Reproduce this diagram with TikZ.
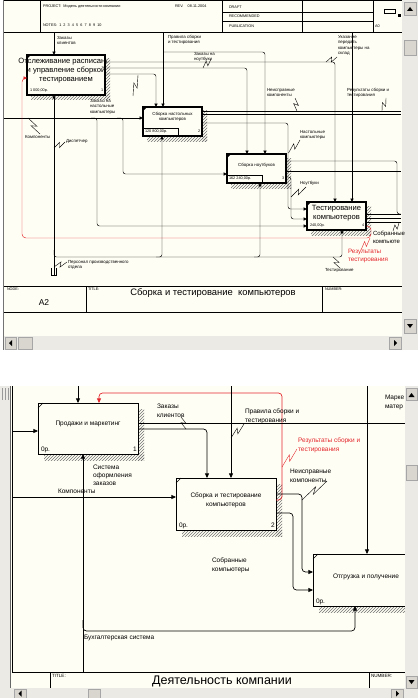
\documentclass[tikz,border=0pt]{standalone}
\usepackage{fontspec}
\setmainfont{Liberation Sans}
\usetikzlibrary{arrows.meta,patterns,calc}
\definecolor{cream}{HTML}{FFFEF4}
\definecolor{sbar}{HTML}{ECEAE4}
\definecolor{sbtn}{HTML}{D9D6CF}
\definecolor{redl}{HTML}{E3262C}
\newcommand{\fsH}{\fontsize{3.8}{4.4}\selectfont}
\newcommand{\fsA}{\fontsize{4.4}{5.6}\selectfont}
\newcommand{\fsAb}{\fontsize{6}{8.5}\selectfont}
\newcommand{\fsB}{\fontsize{6.5}{8.6}\selectfont}
\newcommand{\fsC}{\fontsize{7.6}{9}\selectfont}
\newcommand{\lsq}[3][black]{\draw[sq,#1] #2 -- ($#2!0.6!#3!2.2pt!90:#3$) -- ($#2!0.4!#3!2.2pt!-90:#3$) -- #3;}
\tikzset{
  every node/.style={inner sep=0pt, outer sep=0pt},
  boxT/.style={draw, line width=1.3pt, fill=cream, anchor=north west},
  boxB/.style={draw, line width=0.8pt, fill=cream, anchor=north west},
  lbl/.style={anchor=north west, align=left, font=\fsA},
  lblB/.style={anchor=north west, align=left, font=\fsB},
  hdr/.style={anchor=north west, align=left, font=\fsH},
  con/.style={line width=0.45pt, rounded corners=2.5pt},
  arT/.style={con, -{Triangle[length=3.4pt,width=3.2pt]}},
  conB/.style={line width=0.7pt, rounded corners=3.5pt},
  arB/.style={conB, -{Triangle[length=4.6pt,width=4pt]}},
  sq/.style={line width=0.4pt},
  hatch/.style={pattern=north east lines, pattern color=black!55},
  btn/.style={fill=sbtn, draw=black!35, line width=0.4pt},
}
\begin{document}
\begin{tikzpicture}[x=1pt,y=-1pt]
\useasboundingbox (0,0) rectangle (418,698);
\fill[white] (0,0) rectangle (418,698);
% ================= TOP SCREENSHOT =================
\fill[cream] (4,0) rectangle (402,336);
\draw[black!55, line width=0.8pt] (3.5,0) -- (3.5,350);
% header
\draw[line width=0.5pt] (4,0.4) -- (402,0.4);
\draw[line width=0.5pt] (4,32) -- (402,32);
\draw[line width=0.5pt] (40,0) -- (40,32) (222,0) -- (222,32) (302,0) -- (302,32) (373,0) -- (373,32);
\draw[line width=0.5pt] (222,12) -- (373,12) (222,21) -- (373,21);
\node[hdr] (hp) at (43,5) {PROJECT:\ \ Модель деятельности компании};
\node[hdr] (hr) at (175,5) {REV.\ \ \ \ 08.11.2004};
\node[hdr] (hn) at (43,24) {NOTES:\ \ 1\ \ 2\ \ 3\ \ 4\ \ 5\ \ 6\ \ 7\ \ 8\ \ 9\ \ 10};
\node[hdr] (hd) at (229,6) {DRAFT};
\node[hdr] (hrc) at (229,15) {RECOMMENDED};
\node[hdr] (hpb) at (229,24.5) {PUBLICATION};
\node[hdr] (ha) at (375,25) {A0};
\draw[line width=0.5pt] (384,9) rectangle (395,13);
\fill (398,14) rectangle (401,17);
% footer
\draw[line width=0.5pt] (4,286) -- (402,286) (4,312) -- (402,312) (86,286) -- (86,312) (322,286) -- (322,312);
\node[hdr] (fn) at (7,288) {NODE:};
\node[hdr] (ft) at (88,288) {TITLE:};
\node[hdr] (fnum) at (325,288) {NUMBER:};
\node[font=\fontsize{8.5}{9}\selectfont] (fa2) at (44,303) {A2};
\node[font=\fontsize{9.4}{10}\selectfont] (ftt) at (213,293) {Сборка и тестирование\ \ компьютеров};
% scrollbars
\fill[sbar] (402,0) rectangle (418,350);
\fill[sbar] (4,336) rectangle (402,350);
\draw[btn] (404,2) rectangle (416,15);
\fill (407,11) -- (413,11) -- (410,7) -- cycle;
\draw[btn] (404,40) rectangle (416,55);
\draw[btn] (404,319) rectangle (416,333);
\fill (407,324) -- (413,324) -- (410,328) -- cycle;
\draw[btn] (5,337) rectangle (16,349);
\fill (12,340) -- (12,346) -- (9,343) -- cycle;
\draw[btn] (18,337) rectangle (32,349);
\draw[btn] (389,337) rectangle (401,349);
\fill (394,340) -- (394,346) -- (397,343) -- cycle;
% shadows
\fill[hatch] (105,59) rectangle (110,100);
\fill[hatch] (31,95) rectangle (110,100);
\fill[hatch] (202,111) rectangle (207,141);
\fill[hatch] (147,136) rectangle (207,141);
\fill[hatch] (286,158) rectangle (291,188);
\fill[hatch] (231,183) rectangle (291,188);
\fill[hatch] (366,206) rectangle (371,235);
\fill[hatch] (311,230) rectangle (371,235);
% boxes
\node[boxT, minimum width=78, minimum height=40] (b1) at (27,55) {};
\node[boxT, minimum width=59, minimum height=29] (b2) at (143,107) {};
\node[boxT, minimum width=59, minimum height=29] (b3) at (227,154) {};
\node[boxT, minimum width=59, minimum height=28] (b4) at (307,202) {};
% connectors (top)
\coordinate (tC1) at (54,33);
\draw[arT] (tC1) -- (tC1 |- b1.north);
\coordinate (tC2) at (163,33);
\draw[arT] (tC2) -- (tC2 |- b2.north);
\coordinate (tC2j) at (163,52);
\draw[arT] (tC2j) -| (265,0 |- b3.north);
\coordinate (tC3) at (352,33);
\draw[arT] (tC3) -- (tC3 |- b4.north);
\draw[arT] (b1.east |- 0,62) -| (335,0 |- b4.north);
\draw[arT] (b1.east |- 0,68) -| (247,0 |- b3.north);
\draw[arT] (b1.east |- 0,74) -| (156,0 |- b2.north);
\coordinate (tI1) at (4,118);
\draw[arT] (tI1) -- (tI1 -| b2.west);
\coordinate (tI1a) at (91,118);
\draw[arT] (tI1a) -| (97,200) |- (b4.west |- 0,226);
\coordinate (tI1b) at (117,118);
\draw[arT] (tI1b) -| (123,150) |- (b3.west |- 0,174);
\coordinate (tE1) at (401,111);
\coordinate (tE2) at (401,114);
\draw[con] (b2.east |- tE1) -- (tE1);
\draw[con] (b2.east |- tE2) -- (tE2);
\draw[arT] (b2.east |- 0,123) -| (288,150) |- (b4.west |- 0,209);
\coordinate (tE3) at (401,214);
\coordinate (tE4) at (401,218);
\coordinate (tE5) at (401,222);
\coordinate (tE6) at (401,171);
\draw[con] (b3.east |- 0,161) -| (397,200) |- (tE3);
\draw[con] (b3.east |- tE6) -- (tE6);
\draw[arT] (b3.east |- 0,177) -| (291,200) |- (b4.west |- 0,219);
\draw[con] (b4.east |- tE3) -- (tE3);
\draw[con] (b4.east |- tE4) -- (tE4);
\draw[con] (b4.east |- tE5) -- (tE5);
\draw[arT, redl, rounded corners=4pt] (b4.east |- 0,226) -| (371,238) -| (22,100) |- (b1.west |- 0,78);
\coordinate (tM) at (54,276);
\draw[arT] (tM) -- (tM |- b1.south);
\coordinate (tMj) at (54,250);
\draw[arT] (tMj) |- (300,257) -| (342,0 |- b4.south);
\coordinate (tMa) at (156,257);
\draw[arT] (tMa) -| (162,0 |- b2.south);
\coordinate (tMb) at (254,257);
\draw[arT] (tMb) -| (260,0 |- b3.south);
% tunnel mark
\draw[line width=0.45pt] (51.5,268) -- (51.5,275.5) -- (53.5,275.5) (56.5,268) -- (56.5,275.5) -- (54.5,275.5);
% box texts (top)
\begin{scope}
\clip (10,55) rectangle (106.5,95);
\node[font=\fsC, align=center] (b1t) at (66,71) {Отслеживание расписания\\и управление сборкой\\тестированием};
\end{scope}
\node[font=\fsA, align=center] (b2t) at (172.5,117) {Сборка настольных\\компьютеров};
\node[font=\fsA, align=center] (b3t) at (256.5,165) {Сборка ноутбуков};
\node[font=\fsC, align=center] (b4t) at (336.5,213) {Тестирование\\компьютеров};
\fill (27,55) -- (31,55) -- (27,59) -- cycle;
\fill (143,107) -- (147,107) -- (143,111) -- cycle;
\fill (227,154) -- (231,154) -- (227,158) -- cycle;
\fill (307,202) -- (311,202) -- (307,206) -- cycle;
\draw[line width=0.4pt] (143,128) rectangle (178,136);
\draw[line width=0.4pt] (227,175) rectangle (262,183);
\node[hdr] (b1c) at (30,89) {1 000,00р.};
\node[hdr] (b1n) at (101,89) {1};
\node[hdr] (b2c) at (145,130) {120 800,00р.};
\node[hdr] (b2n) at (198,130) {2};
\node[hdr] (b3c) at (229,177) {162 240,00р.};
\node[hdr] (b3n) at (282,177) {3};
\node[hdr] (b4c) at (310,224) {240,00р.};
\node[hdr] (b4n) at (362,224) {4};
% labels (top)
\node[lbl] (lzk) at (57,36) {Заказы\\клиентов};
\node[lbl] (lpr) at (168,35) {Правила сборки\\и тестирования};
\node[lbl] (lzn) at (194,52) {Заказы на\\ноутбуки};
\lsq{(211,59)}{(203,68)}
\node[lbl] (luk) at (338,35) {Указание\\передать\\компьютеры на\\склад};
\lsq{(337,57)}{(326,62)}
\node[lbl] (lnk) at (267,88) {Неисправные\\компоненты};
\lsq{(295,98)}{(297,111)}
\node[lbl] (lrs) at (347,88) {Результаты сборки и\\тестирования};
\lsq{(386,98)}{(382,111)}
\lsq{(138,75)}{(133,96)}
\node[lbl] (lzd) at (90,99) {Заказы на\\настольные\\компьютеры};
\node[lbl] (lnc) at (300,130) {Настольные\\компьютеры};
\lsq{(300,140)}{(288.5,153)}
\node[lbl] (lkm) at (25,135) {Компоненты};
\lsq{(28,118)}{(40,134)}
\node[lbl] (lds) at (66,139.5) {Диспетчер};
\lsq{(54,148)}{(65,142)}
\node[lbl] (lnb) at (300,181) {Ноутбуки};
\lsq{(306,187)}{(291,197)}
\node[lbl, font=\fsAb] (lsk) at (373,231) {Собранные\\компьюте};
\lsq{(399,223)}{(393,231)}
\node[lbl, font=\fontsize{6.3}{8.5}\selectfont, text=redl] (lrt) at (348,249) {Результаты\\тестирования};
\lsq[redl]{(370,238)}{(361,250)}
\node[lbl] (lps) at (68,260) {Персонал производственного\\отдела};
\lsq{(54,267)}{(67,262)}
\node[lbl] (lts) at (325,268) {Тестирование};
\lsq{(333,257)}{(340,268)}
% ================= BOTTOM SCREENSHOT =================
\fill[sbar] (0,386) rectangle (10,698);
\draw[black!40, line width=0.5pt] (2,388) -- (2,400) (5,388) -- (5,400) (8,388) -- (8,400);
\fill[cream] (10,386) rectangle (405,688);
\draw[black!60, line width=0.6pt] (10,386) -- (10,688);
\draw[line width=0.5pt] (12.5,386) -- (12.5,672);
% title block
\draw[line width=0.6pt] (12,672) -- (405,672) (50,672) -- (50,688) (369,672) -- (369,688);
\node[hdr, font=\fontsize{4.6}{5}\selectfont] (Ltt) at (52,674) {TITLE:};
\node[hdr, font=\fontsize{4.6}{5}\selectfont] (Lnm) at (371,674) {NUMBER:};
\node[font=\fontsize{12.5}{13}\selectfont] (Ltitle) at (222,681) {Деятельность компании};
% shadows
\fill[hatch] (138,409) rectangle (144,460);
\fill[hatch] (44,454) rectangle (144,460);
\fill[hatch] (276,484) rectangle (282,536);
\fill[hatch] (182,530) rectangle (282,536);
\fill[hatch] (319,606) rectangle (405,612);
% boxes
\node[boxB, minimum width=100, minimum height=51] (bA) at (38,403) {};
\node[boxB, minimum width=100, minimum height=52] (bB) at (176,478) {};
\begin{scope}
\clip (300,540) rectangle (405,620);
\node[boxB, minimum width=100, minimum height=52] (bC) at (313,554) {};
\end{scope}
\node[font=\fsB] (bCt) at (366,577) {Отгрузка и получение};
% connectors (bottom)
\coordinate (bC1) at (78,386);
\draw[arB] (bC1) -- (bC1 |- bA.north);
\draw[arB, redl] (bB.east |- 0,500) -| (282,440) |- (99,393) -- (99,0 |- bA.north);
\coordinate (bC2) at (231,386);
\draw[arB] (bC2) -- (bC2 |- bB.north);
\draw[arB] (bA.east |- 0,429) -| (207,0 |- bB.north);
\coordinate (bE1) at (405,423);
\draw[conB] (bA.east |- bE1) -- (bE1);
\coordinate (bI1) at (12.5,431);
\draw[arB] (bI1) -- (bI1 -| bA.west);
\coordinate (bM) at (83,672);
\draw[arB] (bM) -- (bM |- bA.south);
\coordinate (bMj) at (83,620);
\draw[arB] (bMj) |- (340,631) -| (355,0 |- bC.south);
\coordinate (bI2) at (12.5,497);
\draw[arB] (bI2) -- (bI2 -| bB.west);
\draw[arB] (bB.east |- 0,494) -| (302,540) |- (bC.west |- 0,572);
\draw[arB] (bB.east |- 0,513) -| (293,560) |- (bC.west |- 0,590);
\coordinate (bC3) at (367,386);
\draw[arB] (bC3) -- (bC3 |- bC.north);
% box texts (bottom)
\node[font=\fsB] (bAt) at (88,424) {Продажи и маркетинг};
\node[font=\fsB, align=center] (bBt) at (226,500) {Сборка и тестирование\\компьютеров};
\draw[line width=0.4pt] (38,408) -- (43,403);
\draw[line width=0.4pt] (176,483) -- (181,478);
\draw[line width=0.4pt] (313,559) -- (318,554);
\node[lblB] (bAc) at (41,447) {0р.};
\node[lblB] (bAn) at (133,447) {1};
\node[lblB] (bBc) at (179,523) {0р.};
\node[lblB] (bBn) at (271,523) {2};
\node[lblB] (bCc) at (316,599) {0р.};
% labels (bottom)
\node[lblB] (Lzk) at (157,404) {Заказы\\клиентов};
\lsq{(181,417)}{(186,429)}
\node[lblB] (Lpr) at (245,409) {Правила сборки и\\тестирования};
\lsq{(244,424)}{(231,438)}
\node[lblB, text=redl] (Lrs) at (298,438) {Результаты сборки и\\тестирования};
\lsq[redl]{(297,449)}{(282,467)}
\node[lblB] (Lnk) at (290,469) {Неисправные\\компоненты};
\lsq{(327,481)}{(302,500)}
\node[lblB, font=\fontsize{6.5}{8}\selectfont] (Lso) at (93,465) {Система\\оформления\\заказов};
\node[lblB] (Lkm) at (58,489.5) {Компоненты};
\node[lblB] (Lsb) at (212,558) {Собранные\\компьютеры};
\node[lblB] (Lbh) at (84,635) {Бухгалтерская система};
\node[lblB] (Lmk) at (385,395) {Марке\\матер};
% scrollbars (bottom)
\fill[sbar] (405,386) rectangle (418,698);
\fill[sbar] (10,688) rectangle (405,698);
\draw[btn] (406,388) rectangle (417,400);
\fill (408.5,397) -- (414.5,397) -- (411.5,393) -- cycle;
\draw[btn] (406,465) rectangle (417,480);
\draw[btn] (406,676) rectangle (417,688);
\fill (408.5,680) -- (414.5,680) -- (411.5,684) -- cycle;
\draw[btn] (14,689) rectangle (26,698);
\fill (21.5,690.5) -- (21.5,696.5) -- (18.5,693.5) -- cycle;
\draw[btn] (88,689) rectangle (100,698);
\draw[btn] (391,689) rectangle (403,698);
\fill (396,690.5) -- (396,696.5) -- (399,693.5) -- cycle;
\end{tikzpicture}
\end{document}
